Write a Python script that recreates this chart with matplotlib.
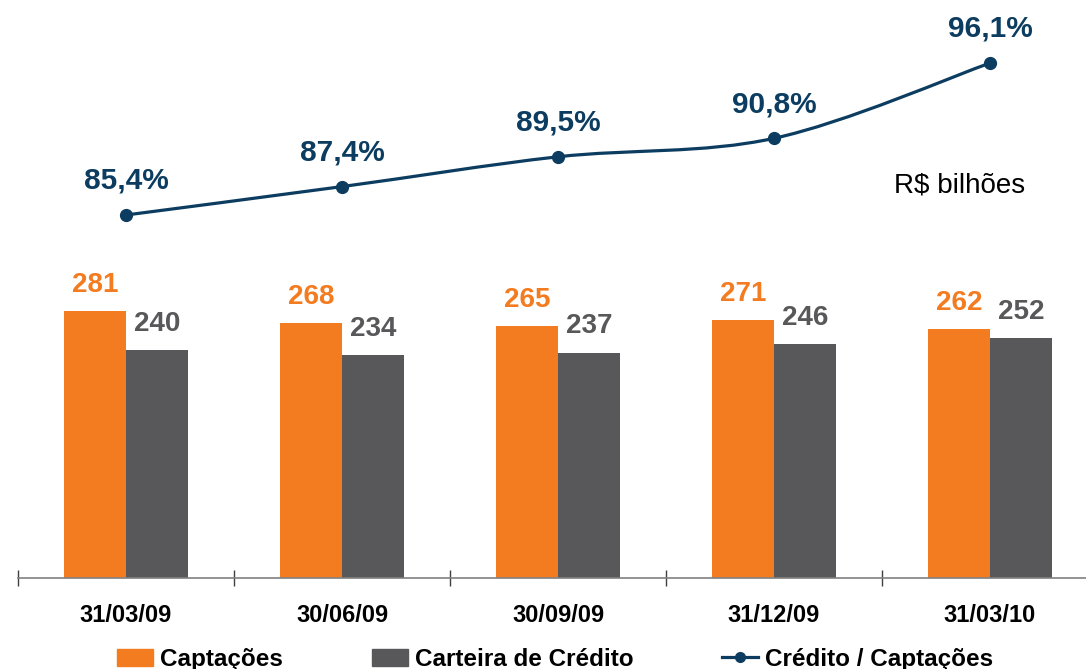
import numpy as np
import matplotlib.pyplot as plt
from matplotlib.patches import Patch, PathPatch
from matplotlib.lines import Line2D
from matplotlib.path import Path

plt.rcParams['font.family'] = ['Liberation Sans', 'DejaVu Sans']

dates = ["31/03/09", "30/06/09", "30/09/09", "31/12/09", "31/03/10"]
captacoes = [281, 268, 265, 271, 262]
carteira = [240, 234, 237, 246, 252]
ratio = [85.4, 87.4, 89.5, 90.8, 96.1]

ORANGE = "#F37B20"
GRAY = "#58585A"
NAVY = "#0C3D60"

W, H = 1086, 669
fig = plt.figure(figsize=(W / 100, H / 100), dpi=100)
left, base = 18, 578
ax = fig.add_axes([left / W, (H - base) / H, (W - left) / W, base / H])
ax.patch.set_alpha(0)

x = np.arange(len(dates))
bw = 0.285
ax.bar(x - bw / 2, captacoes, bw, color=ORANGE)
ax.bar(x + bw / 2, carteira, bw, color=GRAY)

for xi, c, k in zip(x, captacoes, carteira):
    ax.annotate(str(c), (xi - bw / 2, c), xytext=(0, 9.5), textcoords="offset points",
                ha="center", va="bottom", fontsize=20, fontweight="bold", color=ORANGE)
    ax.annotate(str(k), (xi + bw / 2, k), xytext=(0, 9.5), textcoords="offset points",
                ha="center", va="bottom", fontsize=20, fontweight="bold", color=GRAY)

for s in ["top", "right", "left"]:
    ax.spines[s].set_visible(False)
ax.spines["bottom"].set_color("#808080")
ax.spines["bottom"].set_linewidth(1.2)
ax.set_yticks([])
ax.set_xticks(np.arange(-0.5, 5, 1.0))
ax.set_xticklabels([])
ax.tick_params(axis="x", direction="inout", length=12, width=1, color="#404040")
ax.set_xticks(x, minor=True)
ax.set_xticklabels(dates, minor=True, fontsize=17, fontweight="bold")
ax.tick_params(axis="x", which="minor", length=0, pad=19)

# line on twin axis
ax2 = ax.twinx()
ax2.axis("off")

# smooth curve (Catmull-Rom style bezier through the points)
px = np.array(x, dtype=float)
py = np.array(ratio, dtype=float)
ext_x = np.concatenate([[px[0]], px, [px[-1]]])
ext_y = np.concatenate([[py[0]], py, [py[-1]]])
verts = [(px[0], py[0])]
codes = [Path.MOVETO]
t = 1 / 6
for i in range(1, len(px)):
    p0 = (ext_x[i - 1], ext_y[i - 1])
    p1 = (ext_x[i], ext_y[i])
    p2 = (ext_x[i + 1], ext_y[i + 1])
    p3 = (ext_x[i + 2], ext_y[i + 2])
    c1 = (p1[0] + (p2[0] - p0[0]) * t, p1[1] + (p2[1] - p0[1]) * t)
    c2 = (p2[0] - (p3[0] - p1[0]) * t, p2[1] - (p3[1] - p1[1]) * t)
    verts += [c1, c2, p2]
    codes += [Path.CURVE4] * 3
ax2.add_patch(PathPatch(Path(verts, codes), fill=False, edgecolor=NAVY, lw=2.3))
ax2.plot(x, ratio, "o", color=NAVY, ms=8.5)
for xi, r in zip(x, ratio):
    ax2.annotate(f"{r:.1f}%".replace(".", ","), (xi, r), xytext=(0, 14.5),
                 textcoords="offset points", ha="center", va="bottom",
                 fontsize=21.5, fontweight="bold", color=NAVY)

# limits set last so the twin axis cannot rescale them
ax.set_xlim(-0.5, -0.5 + (W - left) / 216)
ax.set_ylim(0, base / 0.951)
ax2.set_ylim(85.4 - (base - 215) / 14.2, 85.4 + 215 / 14.2)

fig.text(960 / W, 1 - 185 / H, "R$ bilhões", ha="center", va="center", fontsize=20)

handles = [Patch(color=ORANGE), Patch(color=GRAY),
           Line2D([], [], color=NAVY, lw=2.3, marker="o", ms=7)]
labels = ["Captações", "Carteira de Crédito", "Crédito / Captações"]
fig.legend(handles, labels, loc="center left", bbox_to_anchor=(117 / W, 1 - 659.5 / H), ncol=3,
           frameon=False, prop={"weight": "bold", "size": 17.5},
           handlelength=1.48, handleheight=0.7, handletextpad=0.29, columnspacing=3.66,
           borderpad=0, borderaxespad=0)

fig.savefig("out.png", dpi=100)
